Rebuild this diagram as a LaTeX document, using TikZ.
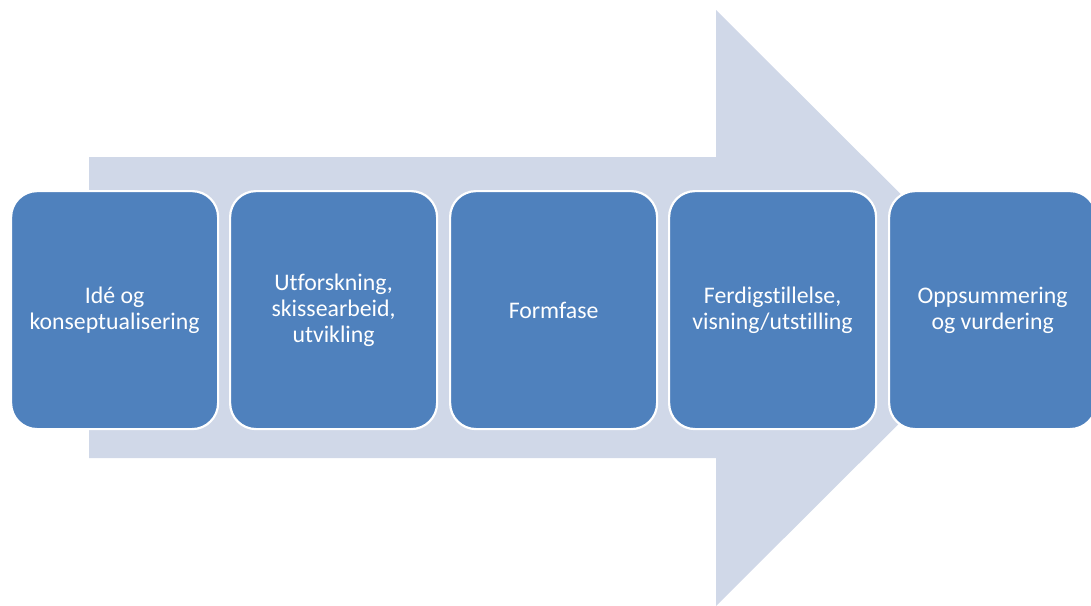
\documentclass[tikz,border=0pt]{standalone}
\usepackage{fontspec}
\setmainfont[Ligatures={NoCommon,NoRare}]{Carlito}
\definecolor{boxblue}{HTML}{4F81BD}
\definecolor{arrowgray}{HTML}{D0D8E8}
\begin{document}
\begin{tikzpicture}[x=1pt,y=-1pt,
  stage/.style={draw=white, line width=2.2pt, fill=boxblue, rounded corners=26pt,
    minimum width=207pt, minimum height=238pt, text=white, align=center,
    font=\fontsize{23.8}{26}\selectfont, inner sep=0pt, anchor=north west}]
\useasboundingbox (0,0) rectangle (1091,605);
\begin{scope}
\clip (0,0) rectangle (1091,605);
\fill[arrowgray] (89,157) -- (716,157) -- (716,10) -- (1015,308) -- (716,606) -- (716,458) -- (89,458) -- cycle;
\node[stage] (s1) at (10,190) {Idé og\\konseptualisering};
\node[stage] (s2) at (229,190) {Utforskning,\\skissearbeid,\\utvikling};
\node[stage] (s3) at (449,190) {Formfase};
\node[stage] (s4) at (668,190) {Ferdigstillelse,\\visning/utstilling};
\node[stage] (s5) at (888,190) {Oppsummering\\og vurdering};
\end{scope}
\end{tikzpicture}
\end{document}
